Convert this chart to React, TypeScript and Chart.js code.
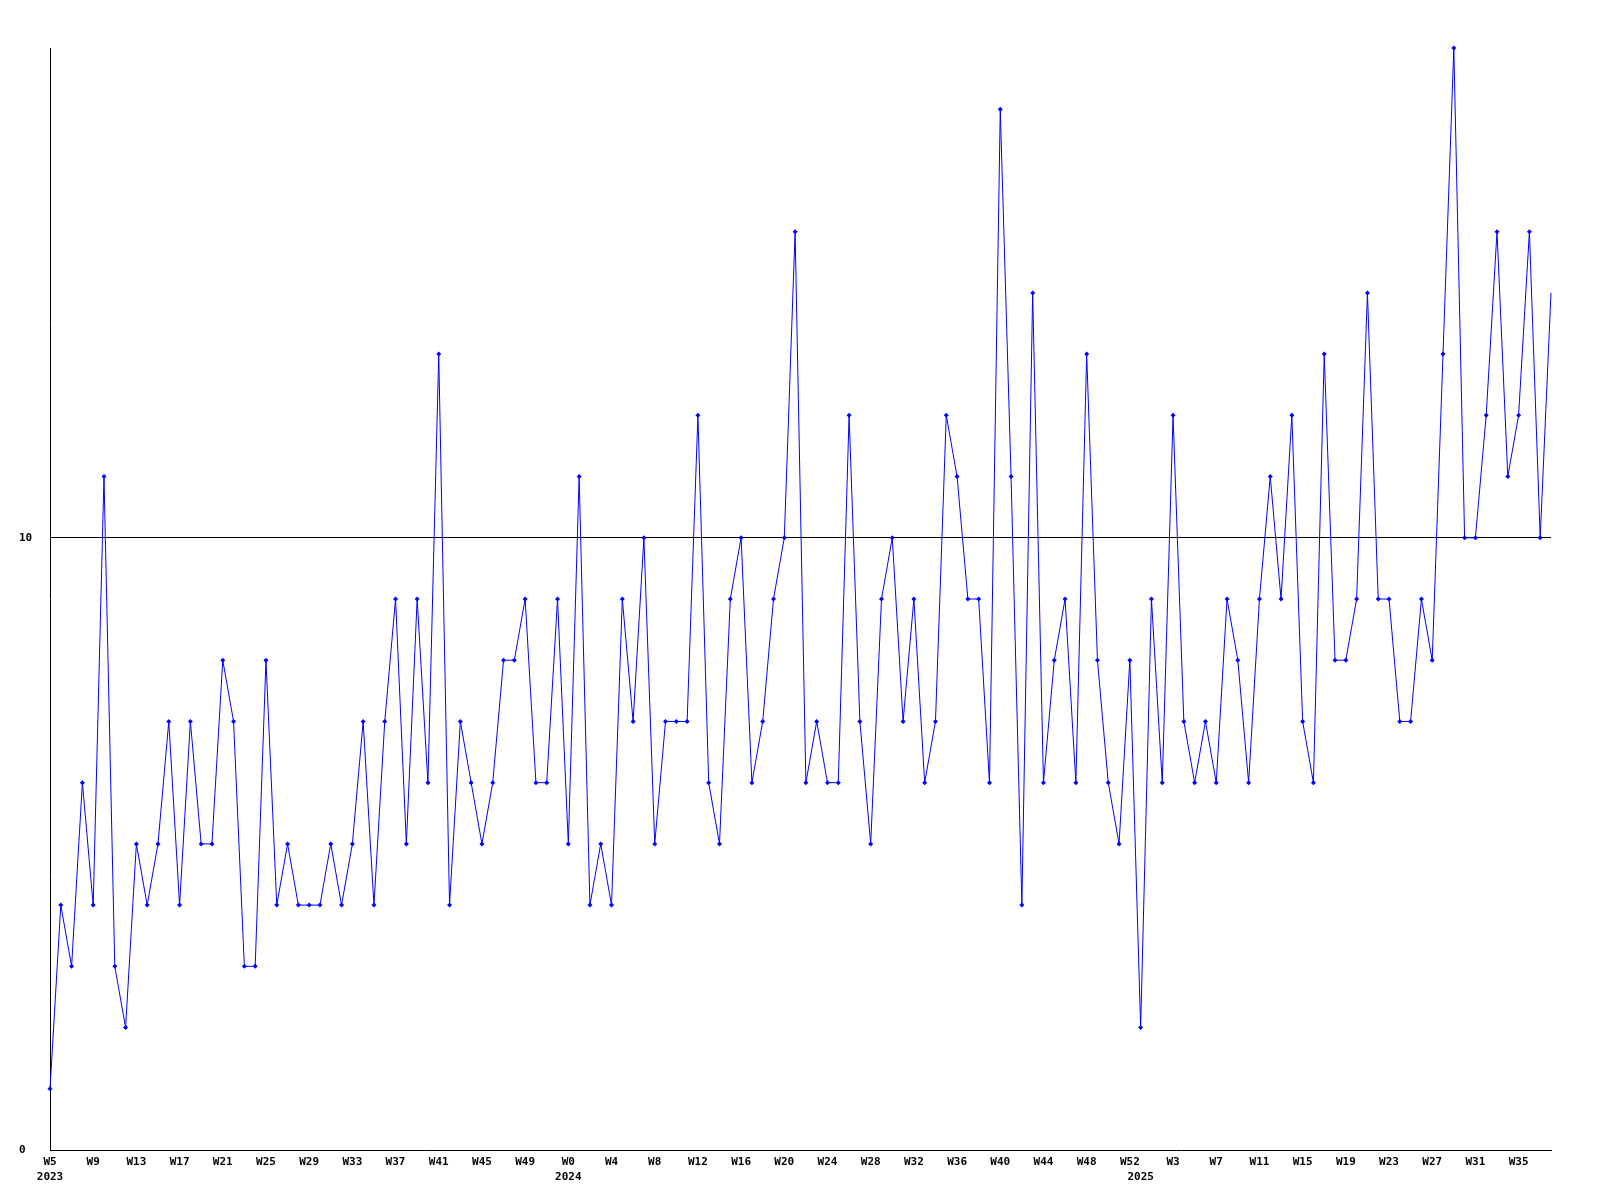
import { useEffect, useRef } from "react";
import { Chart, registerables } from "chart.js";

Chart.register(...registerables);

const yearSegments = [
  { year: "2023", firstWeek: 5, lastWeek: 52 },
  { year: "2024", firstWeek: 0, lastWeek: 52 },
  { year: "2025", firstWeek: 0, lastWeek: 38 },
];

const weekLabels: string[] = [];
const yearLabels: string[] = [];
yearSegments.forEach((s) => {
  for (let w = s.firstWeek; w <= s.lastWeek; w++) {
    weekLabels.push("W" + w);
    yearLabels.push(w === s.firstWeek ? s.year : "");
  }
});

const values = [
  1, 4, 3, 6, 4, 11, 3, 2, 5, 4, 5, 7, 4, 7, 5, 5, 8, 7, 3, 3,
  8, 4, 5, 4, 4, 4, 5, 4, 5, 7, 4, 7, 9, 5, 9, 6, 13, 4, 7, 6,
  5, 6, 8, 8, 9, 6, 6, 9, 5, 11, 4, 5, 4, 9, 7, 10, 5, 7, 7, 7,
  12, 6, 5, 9, 10, 6, 7, 9, 10, 15, 6, 7, 6, 6, 12, 7, 5, 9, 10, 7,
  9, 6, 7, 12, 11, 9, 9, 6, 17, 11, 4, 14, 6, 8, 9, 6, 13, 8, 6, 5,
  8, 2, 9, 6, 12, 7, 6, 7, 6, 9, 8, 6, 9, 11, 9, 12, 7, 6, 13, 8,
  8, 9, 14, 9, 9, 7, 7, 9, 8, 13, 18, 10, 10, 12, 15, 11, 12, 15, 10, 14,
];

const yMin = 0;
const yMax = 18;
const yStep = 10;
const gridValue = 10;

const FONT = { family: "'DejaVu Sans Mono', monospace", weight: "bold" as const, size: 11, lineHeight: 1.35 };

export default function App() {
  const ref = useRef<HTMLCanvasElement | null>(null);

  useEffect(() => {
    document.body.style.margin = "0";
    if (!ref.current) return;
    const chart = new Chart(ref.current, {
      type: "line",
      data: {
        labels: weekLabels,
        datasets: [
          {
            data: values,
            borderColor: "#0000ff",
            backgroundColor: "#0000ff",
            borderWidth: 1,
            tension: 0,
            pointStyle: "rectRot",
            pointRadius: values.map((_, i) => (i === values.length - 1 ? 0 : 2.5)),
            pointBorderWidth: 0,
            pointBackgroundColor: "#0000ff",
            clip: false,
          },
        ],
      },
      options: {
        responsive: false,
        animation: false,
        layout: { padding: { top: 48, right: 49, left: 19, bottom: 0 } },
        plugins: { legend: { display: false }, tooltip: { enabled: false } },
        scales: {
          x: {
            type: "category",
            offset: false,
            grid: { display: false, drawTicks: false },
            border: { display: true, color: "#000", width: 1 },
            afterFit: (s: any) => {
              s.height = 50;
            },
            ticks: {
              autoSkip: false,
              maxRotation: 0,
              minRotation: 0,
              padding: 5,
              color: "#000",
              font: FONT,
              callback: (_v: any, index: number) => {
                const wk = index % 4 === 0 ? weekLabels[index] : "";
                const yr = yearLabels[index];
                if (!wk && !yr) return "";
                return yr ? [wk, yr] : wk;
              },
            },
          },
          y: {
            min: yMin,
            max: yMax,
            grid: {
              drawTicks: false,
              color: (ctx: any) => (ctx.tick && ctx.tick.value === gridValue ? "#000" : "rgba(0,0,0,0)"),
              lineWidth: 1,
            },
            border: { display: true, color: "#000", width: 1 },
            afterFit: (s: any) => {
              s.width = 31;
            },
            ticks: {
              stepSize: yStep,
              includeBounds: false,
              crossAlign: "far",
              padding: 0,
              color: "#000",
              font: FONT,
            },
          },
        },
      },
    });
    return () => chart.destroy();
  }, []);

  return (
    <div style={{ width: 1600, height: 1200, background: "#fff" }}>
      <canvas ref={ref} width={1600} height={1200} style={{ display: "block" }} />
    </div>
  );
}
